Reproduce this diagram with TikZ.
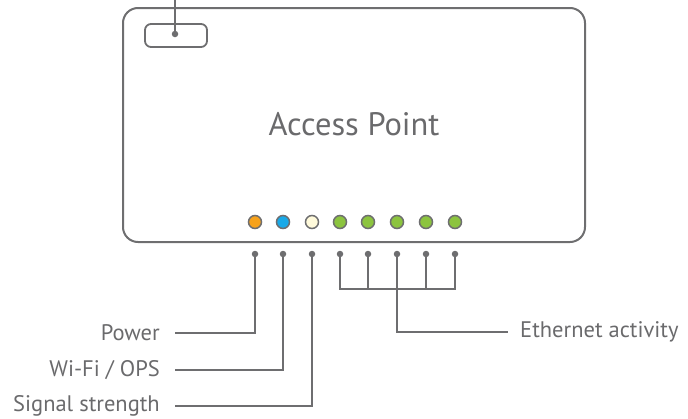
\documentclass[tikz,border=0pt]{standalone}
\usepackage{fontspec}
\setmainfont{PT Sans}
\usetikzlibrary{calc}
\definecolor{ln}{HTML}{6E6E70}
\definecolor{txt}{HTML}{6A6A6C}
\definecolor{ledorange}{HTML}{F7A21B}
\definecolor{ledblue}{HTML}{19A9E8}
\definecolor{ledcream}{HTML}{FFFADB}
\definecolor{ledgreen}{HTML}{8CC43F}
\tikzset{
  frame/.style={draw=ln,line width=2pt,rounded corners=15pt},
  btn/.style={draw=ln,line width=1.8pt,rounded corners=6pt},
  led/.style={circle,draw=ln,line width=1.5pt,minimum size=13pt,inner sep=0pt},
  pin/.style={circle,fill=ln,minimum size=6.5pt,inner sep=0pt},
  wire/.style={draw=ln,line width=1.5pt},
  lbl/.style={text=txt,font=\fontsize{22.5}{25}\selectfont,inner sep=0pt},
}
\begin{document}
\begin{tikzpicture}[x=1pt,y=-1pt]
\useasboundingbox (0,0) rectangle (688,418);
% frame
\draw[frame] (123,8) rectangle (585,242);
\node[lbl,font=\fontsize{32.5}{36}\selectfont] (title) at (354,124) {Access Point};
% button
\draw[btn] (145,24) rectangle (207,47);
\node[pin] (bd) at (175,34) {};
\coordinate (btop) at (175,0);
\draw[wire] (bd) -- (btop);
% LEDs
\foreach \n/\x/\c in {l1/255/ledorange,l2/283/ledblue,l3/312/ledcream,l4/340/ledgreen,l5/368/ledgreen,l6/397/ledgreen,l7/426/ledgreen,l8/455/ledgreen}
  \node[led,fill=\c] (\n) at (\x,222) {};
% pins
\foreach \n/\x in {p1/255,p2/283,p3/312,e1/340,e2/368,e3/397,e4/426,e5/455}
  \node[pin] (\n) at (\x,254) {};
% labels
\node[lbl,anchor=east] (pw) at (160,333) {Power};
\node[lbl,anchor=east] (wf) at (160,370) {Wi-Fi / OPS};
\node[lbl,anchor=east] (ss) at (160,406) {Signal strength};
\node[lbl,anchor=west] (eth) at (520,332) {Ethernet activity};
\draw[wire] (p1.center) |- ($(pw.east)+(15,0)$);
\draw[wire] (p2.center) |- ($(wf.east)+(15,0)$);
\draw[wire] (p3.center) |- ($(ss.east)+(15,0)$);
% ethernet bus
\coordinate (busL) at (340,289);
\coordinate (busR) at (455,289);
\coordinate (busM) at (397,289);
\draw[wire] (e1.center) |- (busR) -- (e5.center);
\draw[wire] (e2.center) -- (e2.center |- busL);
\draw[wire] (e3.center) -- (busM);
\draw[wire] (e4.center) -- (e4.center |- busL);
\draw[wire] (busM) |- ($(eth.west)+(-12,0)$);
\end{tikzpicture}
\end{document}
